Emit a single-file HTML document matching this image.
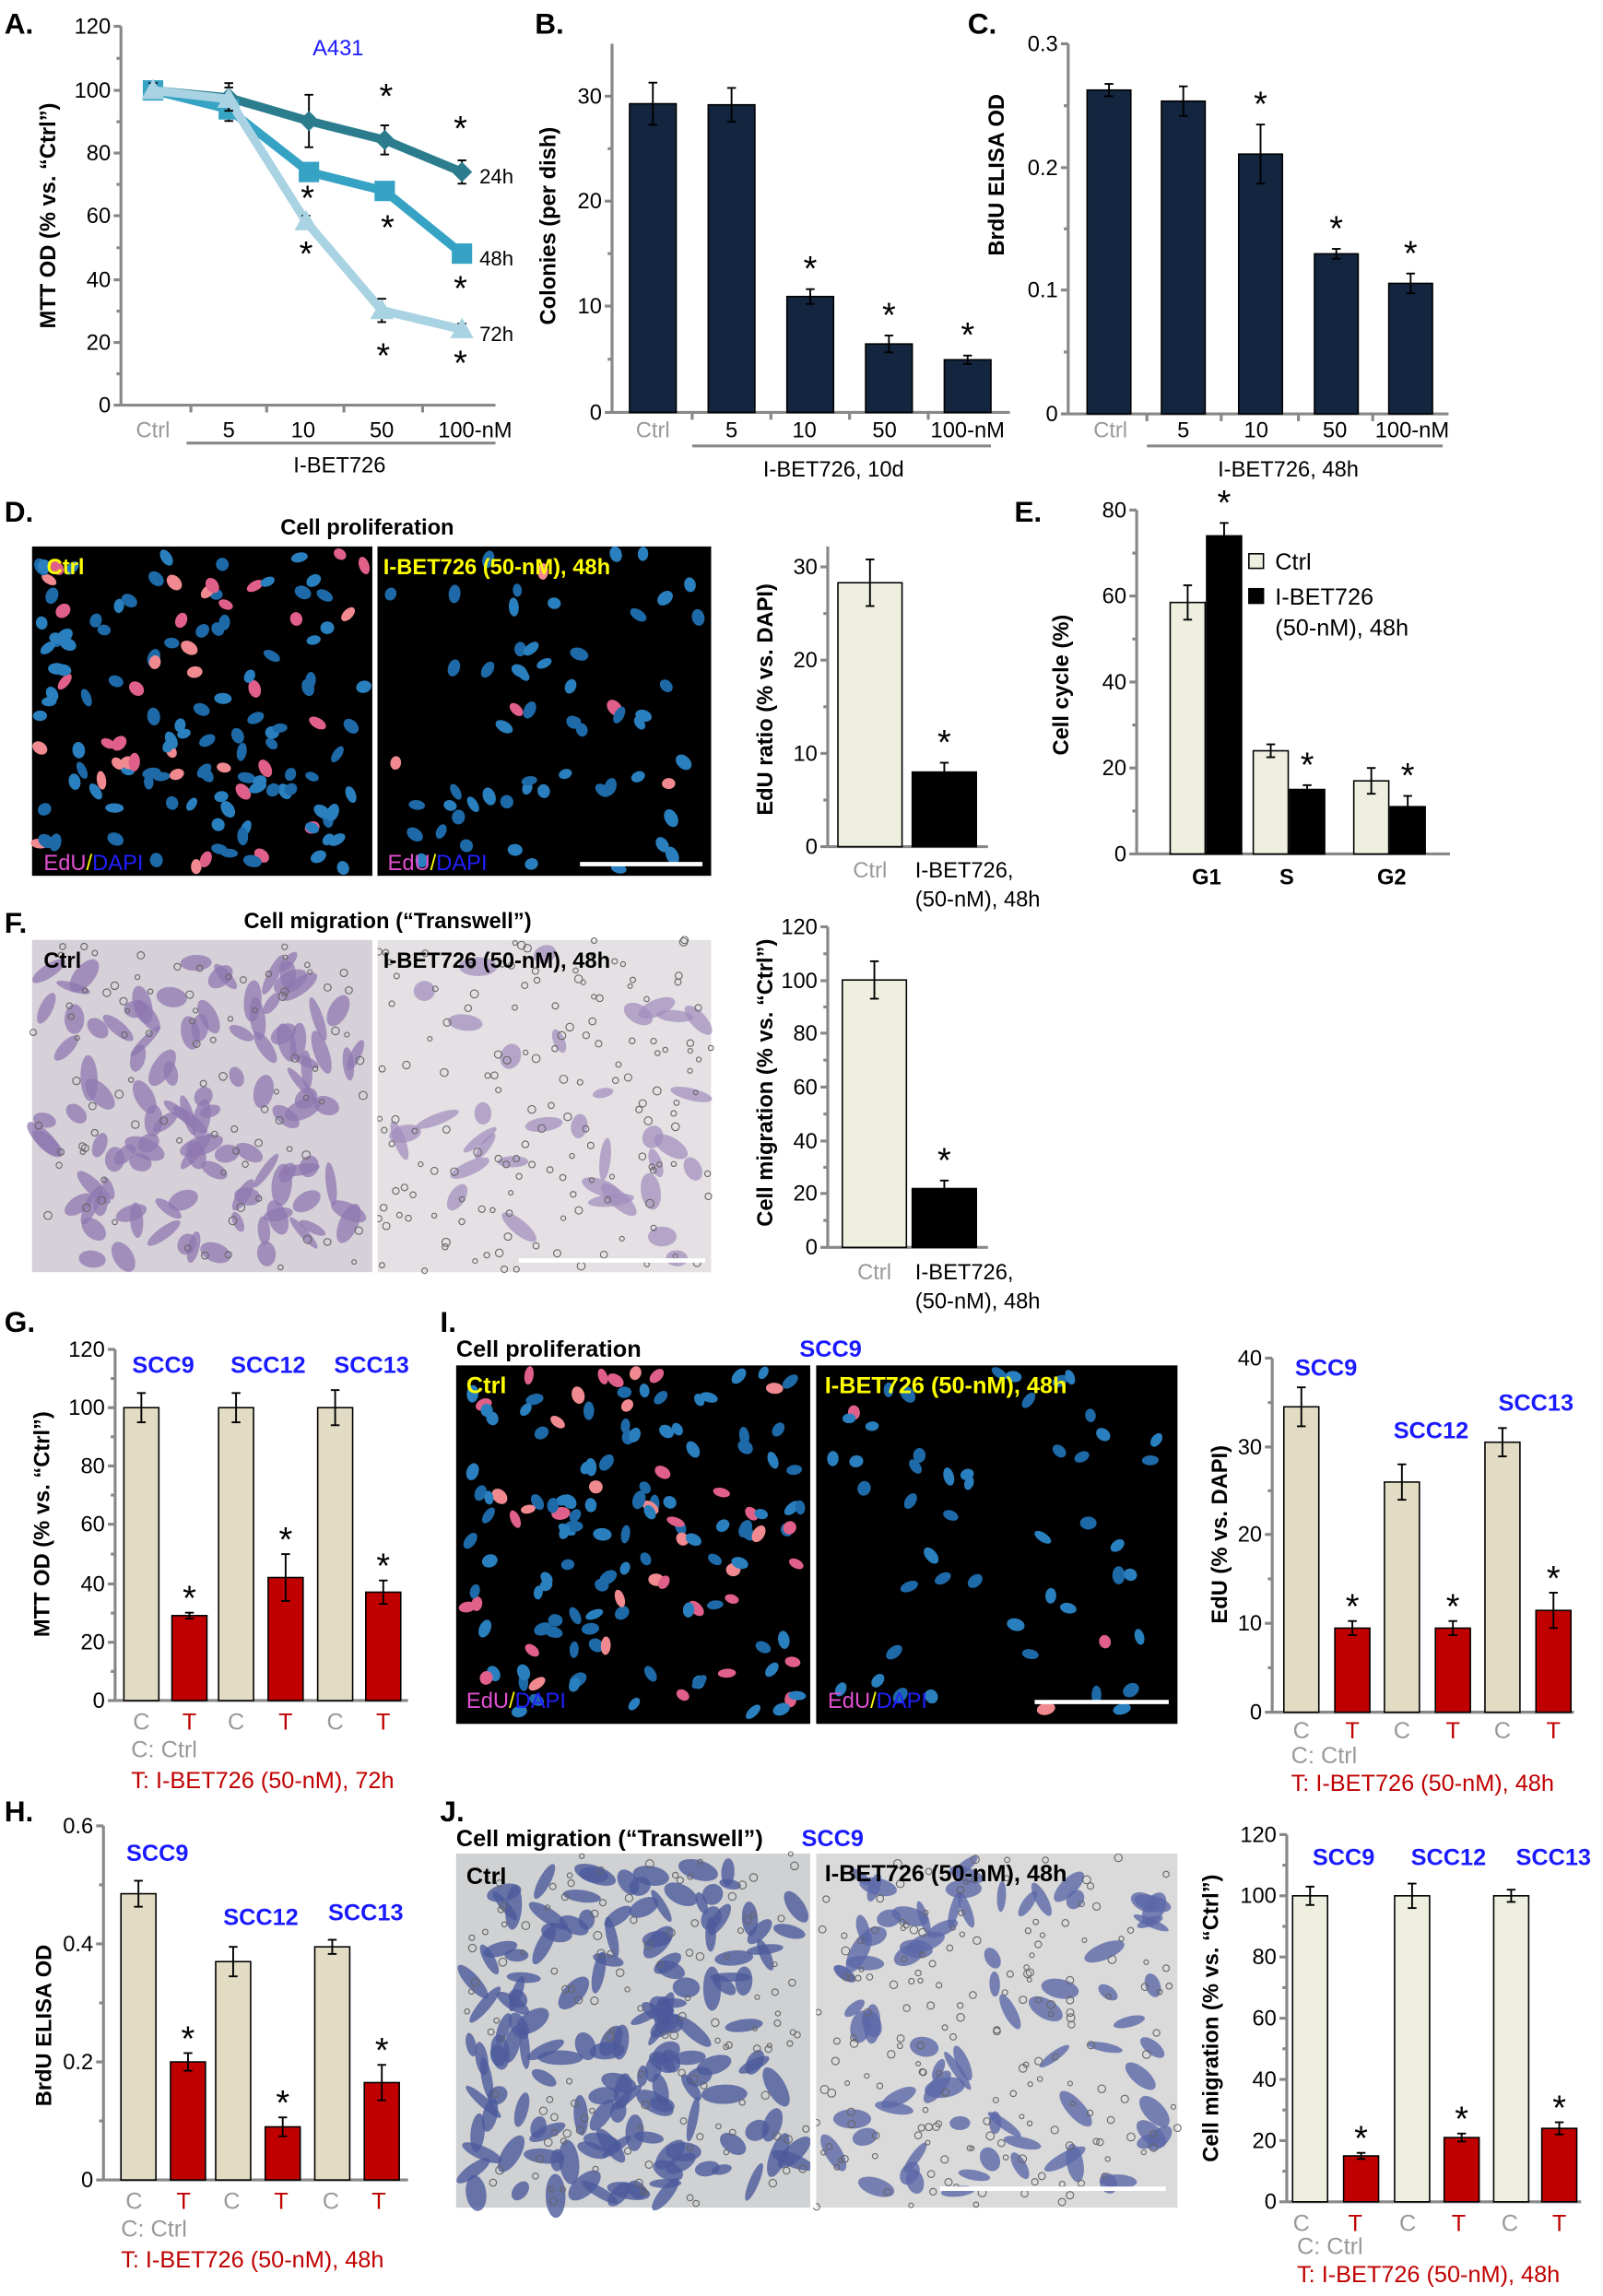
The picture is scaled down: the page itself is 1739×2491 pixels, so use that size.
<!DOCTYPE html>
<html><head><meta charset="utf-8"><style>
html,body{margin:0;padding:0;background:#fff}
svg{display:block}
text{font-family:"Liberation Sans",Arial,sans-serif}
</style></head><body>
<svg id="s" width="1739" height="2491" viewBox="0 0 1100 1575.6" xmlns="http://www.w3.org/2000/svg">
<g id="imgs"></g>
<g id="g" stroke-linecap="butt"></g>
</svg>
<script>
const NS="http://www.w3.org/2000/svg";
const G=document.getElementById('g'), IM=document.getElementById('imgs');
function el(tag,attrs,txt,parent){const e=document.createElementNS(NS,tag);for(const k in attrs)e.setAttribute(k,attrs[k]);if(txt!=null)e.textContent=txt;(parent||G).appendChild(e);return e;}
function T(x,y,s,o={}){return el('text',Object.assign({x:x,y:y,'font-size':o.fs||15,fill:o.fill||'#000','text-anchor':o.a||'middle','font-weight':o.b?'bold':'normal'},o.tr?{transform:o.tr}:{}),s);}
function L(x1,y1,x2,y2,c='#000',w=1.2){el('line',{x1,y1,x2,y2,stroke:c,'stroke-width':w});}
function R(x,y,w,h,f,st='#000'){el('rect',{x,y,width:w,height:h,fill:f,stroke:st,'stroke-width':1});}
const AX='#888';
function axis(x,y0,ticks,xend,top){
  const yt=top!=null?top:ticks[ticks.length-1][0];
  L(x,yt,x,y0,AX,2); L(x,y0,xend,y0,AX,2);
  ticks.forEach(t=>{L(x-5,t[0],x,t[0],AX,2);T(x-7,t[0]+5,t[1],{a:'end',fs:15});});
  for(let i=0;i<ticks.length-1;i++){const m=(ticks[i][0]+ticks[i+1][0])/2;L(x-3,m,x,m,AX,2);}
}
function err(x,y,e,w=6){L(x,y-e,x,y+e);L(x-w/2,y-e,x+w/2,y-e);L(x-w/2,y+e,x+w/2,y+e);}
function star(x,y,fs=24){T(x,y,'*',{fs:fs});}
function ylab(x,y,s){T(x,y,s,{b:true,fs:15,tr:`rotate(-90 ${x} ${y})`});}
function bars(x,y0,scale,list,w){
  list.forEach(b=>{const top=y0-b[1]*scale;R(b[0]-w/2,top,w,b[1]*scale,b[2]);err(b[0],top,b[3]*scale);if(b[4])star(b[0],top-b[3]*scale+(b[5]||16),b[6]||24);});
}
// ---------- A ----------
T(3,23,'A.',{a:'start',b:true,fs:20});
axis(83,278,[[278,'0'],[235,'20'],[192,'40'],[148,'60'],[105,'80'],[62,'100'],[18,'120']],340);
[131,183,236,290].forEach(x=>L(x,278,x,283,AX,2));
T(105,300,'Ctrl',{fill:'#999'});T(157,300,'5');T(208,300,'10');T(262,300,'50');T(326,300,'100-nM');
L(128,304,340,304,AX,2);T(233,324,'I-BET726');
T(232,38,'A431',{fill:'#1a1aff',fs:15});
ylab(38,148,'MTT OD (% vs. “Ctrl”)');
const ser=[['#2b7d8e',[[105,62,6],[157,67,10],[212,83,18],[264,96,10],[317,118,8]],'diamond','24h'],
['#36a3c4',[[105,62,5],[157,75,8],[212,118,6],[264,131,5],[317,174,5]],'sq','48h'],
['#a9d3e3',[[105,62,5],[157,68,8],[210,152,4],[262,213,8],[317,226,4]],'tri','72h']];
ser.forEach(s=>{const p=s[1];el('polyline',{points:p.map(q=>q[0]+','+q[1]).join(' '),fill:'none',stroke:s[0],'stroke-width':6,'stroke-linejoin':'round'});
 p.forEach(q=>{err(q[0],q[1],q[2]);
  if(s[2]=='diamond')el('polygon',{points:`${q[0]},${q[1]-7} ${q[0]+7},${q[1]} ${q[0]},${q[1]+7} ${q[0]-7},${q[1]}`,fill:s[0]});
  else if(s[2]=='sq')el('rect',{x:q[0]-7,y:q[1]-7,width:14,height:14,fill:s[0]});
  else el('polygon',{points:`${q[0]},${q[1]-8} ${q[0]+8},${q[1]+6} ${q[0]-8},${q[1]+6}`,fill:s[0]});});
 T(329,p[4][1]+8,s[3],{a:'start',fs:14});});
star(265,74);star(316,96);star(211,144);star(266,164);star(316,206);star(210,182);star(263,252);star(316,257);
// ---------- B ----------
T(367,23,'B.',{a:'start',b:true,fs:20});
axis(420,283,[[283,'0'],[210,'10'],[138,'20'],[66,'30']],693,30);
ylab(381,155,'Colonies (per dish)');
const NV='#13253f';
bars(420,283,7.23,[[448,29.3,NV,2],[502,29.2,NV,1.6],[556,11,NV,0.7,1,-6],[610,6.5,NV,0.8,1,-6],[664,5,NV,0.4,1,-6]],32);
[475,529,583,637].forEach(x=>L(x,283,x,288,AX,2));
T(448,300,'Ctrl',{fill:'#999'});T(502,300,'5');T(552,300,'10');T(607,300,'50');T(664,300,'100-nM');
L(475,306,680,306,AX,2);T(572,327,'I-BET726, 10d');
// ---------- C ----------
T(664,23,'C.',{a:'start',b:true,fs:20});
axis(733,284,[[284,'0'],[199,'0.1'],[115,'0.2'],[30,'0.3']],994);
ylab(689,120,'BrdU ELISA OD');
bars(733,284,845,[[761,.263,NV,.005],[812,.254,NV,.012],[865,.211,NV,.024,1,-6],[917,.130,NV,.004,1,-6],[968,.106,NV,.008,1,-6]],30);
[787,838,891,942].forEach(x=>L(x,284,x,289,AX,2));
T(762,300,'Ctrl',{fill:'#999'});T(812,300,'5');T(862,300,'10');T(916,300,'50');T(969,300,'100-nM');
L(787,306,990,306,AX,2);T(884,327,'I-BET726, 48h');
// ---------- images ----------
let seed=7;function rnd(){seed=(seed*16807)%2147483647;return seed/2147483647;}
function fluo(x,y,w,h,n,pinkFrac){el('rect',{x,y,width:w,height:h,fill:'#000'},null,IM);
 for(let i=0;i<n;i++){const cx=x+5+rnd()*(w-10),cy=y+5+rnd()*(h-10);const pk=rnd()<pinkFrac;
  el('ellipse',{cx,cy,rx:3+rnd()*1.5,ry:4.5+rnd()*2,transform:`rotate(${rnd()*180} ${cx} ${cy})`,fill:pk?(rnd()<.5?'#f08a90':'#e0608a'):(rnd()<.5?'#2a80bf':'#1e6aa8')},null,IM);}}
function trans(x,y,w,h,n,bg,cell,dots,op){el('rect',{x,y,width:w,height:h,fill:bg},null,IM);
 for(let i=0;i<n;i++){const cx=x+8+rnd()*(w-16),cy=y+8+rnd()*(h-16);
  el('ellipse',{cx,cy,rx:3+rnd()*4,ry:7+rnd()*9,transform:`rotate(${rnd()*180} ${cx} ${cy})`,fill:cell,opacity:op||.8},null,IM);}
 for(let i=0;i<dots;i++){el('circle',{cx:x+rnd()*w,cy:y+rnd()*h,r:1.5+rnd()*1.3,fill:'none',stroke:'#666','stroke-width':.7},null,IM);}}
// D
T(252,367,'Cell proliferation',{b:true,fs:15});
T(3,358,'D.',{a:'start',b:true,fs:20});
fluo(22,375,234,226,140,.3);fluo(259,375,229,226,60,.1);
R(255.5,375,3.5,226,'#fff','none');
T(32,394,'Ctrl',{a:'start',b:true,fill:'#ff0',fs:15});
T(263,394,'I-BET726 (50-nM), 48h',{a:'start',b:true,fill:'#ff0',fs:15});
function edu(x,y){const t=el('text',{x,y,'font-size':15,'text-anchor':'start'});
 [['EdU','#e050d0'],['/','#ff0'],['DAPI','#2020ff']].forEach(a=>{const s=document.createElementNS(NS,'tspan');s.setAttribute('fill',a[1]);s.textContent=a[0];t.appendChild(s);});}
edu(30,597);edu(266,597);
L(398,593,482,593,'#fff',3);
axis(568,581,[[581,'0'],[517,'10'],[453,'20'],[389,'30']],678,375);
ylab(530,480,'EdU ratio (% vs. DAPI)');
bars(568,581,6.4,[[597,28.3,'#efefe0',2.5],[648,8,'#000',1,1,-6]],44);
T(597,602,'Ctrl',{fill:'#999'});T(628,602,'I-BET726,',{a:'start'});T(628,622,'(50-nM), 48h',{a:'start'});
// E
T(696,358,'E.',{a:'start',b:true,fs:20});
axis(780,586,[[586,'0'],[527,'20'],[468,'40'],[409,'60'],[350,'80']],995);
ylab(733,470,'Cell cycle (%)');
bars(780,586,2.95,[[815,58.5,'#efefe0',4],[840,74,'#000',3,1,-6],[872,24,'#efefe0',1.5],[897,15,'#000',1,1,-6],[941,17,'#efefe0',3],[966,11,'#000',2.5,1,-6]],24);
T(828,607,'G1',{b:true});T(883,607,'S',{b:true});T(955,607,'G2',{b:true});
R(857,380,10,10,'#efefe0');T(875,391,'Ctrl',{a:'start',fs:16});
R(857,404,10,10,'#000');T(875,415,'I-BET726',{a:'start',fs:16});T(875,436,'(50-nM), 48h',{a:'start',fs:16});
// F
T(3,640,'F.',{a:'start',b:true,fs:20});
T(266,637,'Cell migration (“Transwell”)',{b:true,fs:15});
trans(22,645,234,228,110,'#d6d0d8','#8f78b0',90,.75);trans(259,645,229,228,35,'#e4e0e3','#a08cbc',150,.7);
R(255.5,645,3.5,228,'#fff','none');
T(30,664,'Ctrl',{a:'start',b:true,fs:15});T(263,664,'I-BET726 (50-nM), 48h',{a:'start',b:true,fs:15});
L(356,865,484,865,'#fff',3);
axis(568,856,[[856,'0'],[819,'20'],[783,'40'],[746,'60'],[709,'80'],[673,'100'],[636,'120']],678);
ylab(530,743,'Cell migration (% vs. “Ctrl”)');
bars(568,856,1.835,[[600,100,'#efefe0',7],[648,22,'#000',3,1,-6]],44);
T(600,878,'Ctrl',{fill:'#999'});T(628,878,'I-BET726,',{a:'start'});T(628,898,'(50-nM), 48h',{a:'start'});
// G
T(3,914,'G.',{a:'start',b:true,fs:20});
axis(79,1167,[[1167,'0'],[1127,'20'],[1087,'40'],[1046,'60'],[1006,'80'],[966,'100'],[926,'120']],280);
ylab(34,1046,'MTT OD (% vs. “Ctrl”)');
const BE='#e2dcc4',RD='#c00000';
bars(79,1167,2.01,[[97,100,BE,5],[130,29,RD,1,1,-2],[162,100,BE,5],[196,42,RD,8,1,-2],[230,100,BE,6],[263,37,RD,4,1,-2]],24);
T(112,942,'SCC9',{b:true,fill:'#1a1aff',fs:16});T(184,942,'SCC12',{b:true,fill:'#1a1aff',fs:16});T(255,942,'SCC13',{b:true,fill:'#1a1aff',fs:16});
[['C',97],['T',130],['C',162],['T',196],['C',230],['T',263]].forEach(a=>T(a[1],1187,a[0],{fill:a[0]=='C'?'#999':'#c00000',fs:16}));
T(90,1206,'C: Ctrl',{a:'start',fill:'#999',fs:16});T(90,1227,'T:  I-BET726 (50-nM), 72h',{a:'start',fill:'#c00000',fs:16});
// I
T(302,914,'I.',{a:'start',b:true,fs:20});
T(313,931,'Cell proliferation',{a:'start',b:true,fs:16});T(570,931,'SCC9',{b:true,fill:'#1a1aff',fs:16});
fluo(313,937,243,246,140,.35);fluo(560,937,248,246,50,.04);
R(556,937,4,246,'#fff','none');
T(320,956,'Ctrl',{a:'start',b:true,fill:'#ff0',fs:16});T(566,956,'I-BET726 (50-nM), 48h',{a:'start',b:true,fill:'#ff0',fs:16});
edu(320,1172);edu(568,1172);
L(710,1168,802,1168,'#fff',3);
axis(873,1175,[[1175,'0'],[1114,'10'],[1053,'20'],[993,'30'],[932,'40']],1080);
ylab(842,1053,'EdU (% vs. DAPI)');
bars(873,1175,6.075,[[893,34.5,BE,2.2],[928,9.5,RD,0.8,1,-2],[962,26,BE,2],[997,9.5,RD,0.8,1,-2],[1031,30.5,BE,1.6],[1066,11.5,RD,2,1,-2]],24);
T(910,944,'SCC9',{b:true,fill:'#1a1aff',fs:16});T(982,987,'SCC12',{b:true,fill:'#1a1aff',fs:16});T(1054,968,'SCC13',{b:true,fill:'#1a1aff',fs:16});
[['C',893],['T',928],['C',962],['T',997],['C',1031],['T',1066]].forEach(a=>T(a[1],1193,a[0],{fill:a[0]=='C'?'#999':'#c00000',fs:16}));
T(886,1210,'C: Ctrl',{a:'start',fill:'#999',fs:16});T(886,1229,'T:  I-BET726 (50-nM), 48h',{a:'start',fill:'#c00000',fs:16});
// H
T(3,1250,'H.',{a:'start',b:true,fs:20});
axis(71,1496,[[1496,'0'],[1415,'0.2'],[1334,'0.4'],[1253,'0.6']],280);
ylab(35,1390,'BrdU ELISA OD');
bars(71,1496,405,[[95,.485,BE,.022],[129,.2,RD,.015,1,-2],[160,.37,BE,.025],[194,.09,RD,.016,1,-2],[228,.395,BE,.012],[262,.165,RD,.03,1,-2]],24);
T(108,1277,'SCC9',{b:true,fill:'#1a1aff',fs:16});T(179,1321,'SCC12',{b:true,fill:'#1a1aff',fs:16});T(251,1318,'SCC13',{b:true,fill:'#1a1aff',fs:16});
[['C',92],['T',126],['C',159],['T',193],['C',227],['T',260]].forEach(a=>T(a[1],1516,a[0],{fill:a[0]=='C'?'#999':'#c00000',fs:16}));
T(83,1535,'C: Ctrl',{a:'start',fill:'#999',fs:16});T(83,1556,'T:  I-BET726 (50-nM), 48h',{a:'start',fill:'#c00000',fs:16});
// J
T(302,1250,'J.',{a:'start',b:true,fs:20});
T(313,1267,'Cell migration (“Transwell”)',{a:'start',b:true,fs:16});T(550,1267,'SCC9',{a:'start',b:true,fill:'#1a1aff',fs:16});
trans(313,1272,243,243,150,'#cfd1d3','#4c5a9c',130,.8);trans(560,1272,248,243,80,'#dadada','#5c68a8',180,.8);
R(556,1272,4,243,'#fff','none');
T(320,1293,'Ctrl',{a:'start',b:true,fs:16});T(566,1291,'I-BET726 (50-nM), 48h',{a:'start',b:true,fs:16});
L(645,1502,800,1502,'#fff',3);
axis(883,1511,[[1511,'0'],[1469,'20'],[1427,'40'],[1385,'60'],[1343,'80'],[1301,'100'],[1259,'120']],1085);
ylab(836,1385,'Cell migration (% vs. “Ctrl”)');
bars(883,1511,2.1,[[899,100,'#efefe0',3],[934,15,RD,1,1,-2],[969,100,'#efefe0',4],[1003,21,RD,1.3,1,-2],[1037,100,'#efefe0',2],[1070,24,RD,2,1,-2]],24);
T(922,1280,'SCC9',{b:true,fill:'#1a1aff',fs:16});T(994,1280,'SCC12',{b:true,fill:'#1a1aff',fs:16});T(1066,1280,'SCC13',{b:true,fill:'#1a1aff',fs:16});
[['C',893],['T',930],['C',966],['T',1001],['C',1036],['T',1070]].forEach(a=>T(a[1],1531,a[0],{fill:a[0]=='C'?'#999':'#c00000',fs:16}));
T(890,1547,'C: Ctrl',{a:'start',fill:'#999',fs:16});T(890,1566,'T:  I-BET726 (50-nM), 48h',{a:'start',fill:'#c00000',fs:16});
</script>
</body></html>
